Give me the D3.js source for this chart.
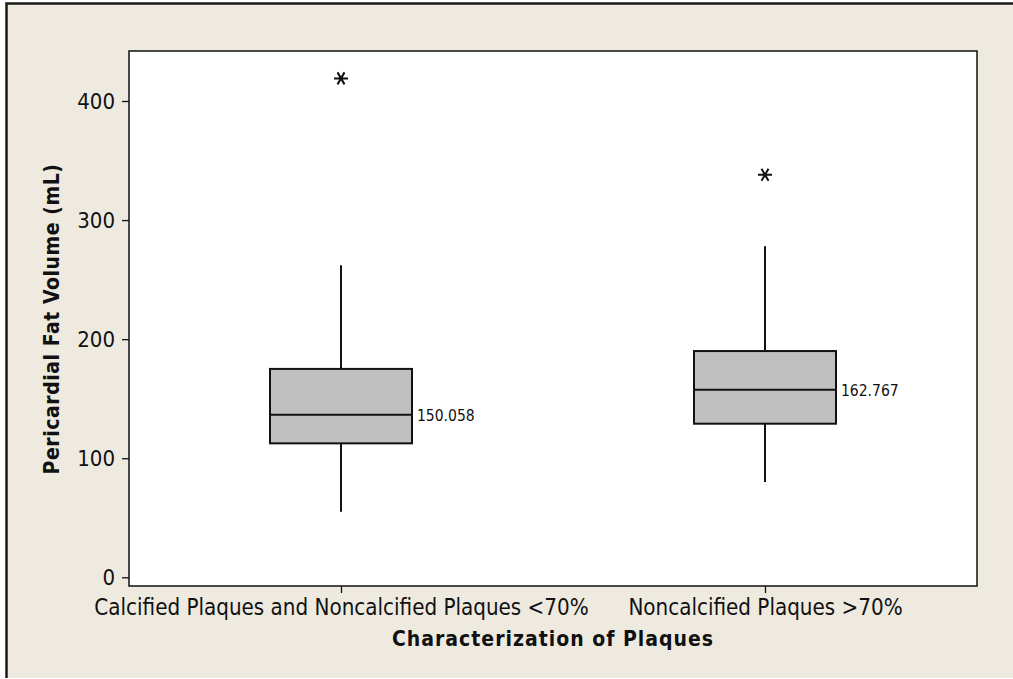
<!DOCTYPE html>
<html>
<head>
<meta charset="utf-8">
<script src="https://cdn.jsdelivr.net/npm/d3@7"></script>
<style>
    html, body { margin: 0; padding: 0; background: #ffffff; overflow: hidden; }
    svg { display: block; }
    text { font-family: "DejaVu Sans Condensed", "DejaVu Sans", sans-serif; fill: #111; }
</style>
</head>
<body>
<div id="boxplot"></div>
<script>
// data
var groups = ["Calcified Plaques and Noncalcified Plaques <70%", "Noncalcified Plaques >70%"]
var whiskerLow = [55, 80]
var q1 = [112.5, 129]
var medians = [136.5, 157.5]
var q3 = [175, 190]
var whiskerHigh = [262, 278]
var means = [150.058, 162.767]
var outliers = [[419], [338]]
var yTicks = [0, 100, 200, 300, 400]

var outerWidth = 1013,
    outerHeight = 679
var margin = { top: 51, right: 36, bottom: 93, left: 129 }
var innerWidth = outerWidth - margin.left - margin.right
var innerHeight = outerHeight - margin.top - margin.bottom

var svg = d3.select("#boxplot")
    .append("svg")
    .attr("width", outerWidth)
    .attr("height", outerHeight)

// beige panel with the heavy frame on top and left
svg.append("rect")
    .attr("x", 6)
    .attr("y", 3)
    .attr("width", outerWidth - 6)
    .attr("height", outerHeight - 4)
    .attr("fill", "#eeeae0")
svg.append("path")
    .attr("d", "M6.5," + (outerHeight - 1) + "V3.5H" + outerWidth)
    .attr("fill", "none")
    .attr("stroke", "#1a1a1a")
    .attr("stroke-width", 2.5)

var plot = svg.append("g")
    .attr("transform", "translate(" + margin.left + "," + margin.top + ")")

plot.append("rect")
    .attr("width", innerWidth)
    .attr("height", innerHeight)
    .attr("fill", "#ffffff")

var yScale = d3.scaleLinear()
    .domain([0, 400])
    .range([526.3, 50])

var xScale = d3.scalePoint()
    .domain(groups)
    .range([0, innerWidth])
    .padding(0.5)

var boxWidth = 142

// y axis
var yAxis = plot.append("g")
    .call(d3.axisLeft(yScale).tickValues(yTicks).tickSize(7).tickPadding(7))
yAxis.select(".domain").remove()
yAxis.selectAll("line").attr("stroke", "#111").attr("stroke-width", 1.3)
yAxis.selectAll("text")
    .attr("font-size", "22px")
    .attr("font-family", "DejaVu Sans Condensed, DejaVu Sans, sans-serif")
    .attr("fill", "#111")

// x axis
var xAxis = plot.append("g")
    .attr("transform", "translate(0," + innerHeight + ")")
    .call(d3.axisBottom(xScale).tickSize(7).tickPadding(6))
xAxis.select(".domain").remove()
xAxis.selectAll("line").attr("stroke", "#111").attr("stroke-width", 1.3)
xAxis.selectAll("text")
    .attr("font-size", "22.2px")
    .attr("font-family", "DejaVu Sans Condensed, DejaVu Sans, sans-serif")
    .attr("fill", "#111")

// plot border
plot.append("rect")
    .attr("width", innerWidth)
    .attr("height", innerHeight)
    .attr("fill", "none")
    .attr("stroke", "#111")
    .attr("stroke-width", 1.5)

var boxData = groups.map(function(g, i) {
    return { name: g, lo: whiskerLow[i], q1: q1[i], med: medians[i], q3: q3[i], hi: whiskerHigh[i], mean: means[i], out: outliers[i] }
})

var boxes = plot.selectAll(".box")
    .data(boxData)
    .enter()
    .append("g")
    .attr("class", "box")
    .attr("transform", d => "translate(" + xScale(d.name) + ",0)")

// whiskers
boxes.append("line")
    .attr("y1", d => yScale(d.hi))
    .attr("y2", d => yScale(d.q3))
    .attr("stroke", "#111")
    .attr("stroke-width", 2)
boxes.append("line")
    .attr("y1", d => yScale(d.q1))
    .attr("y2", d => yScale(d.lo))
    .attr("stroke", "#111")
    .attr("stroke-width", 2)

boxes.append("rect")
    .attr("x", -boxWidth / 2)
    .attr("y", d => yScale(d.q3))
    .attr("width", boxWidth)
    .attr("height", d => yScale(d.q1) - yScale(d.q3))
    .attr("fill", "#c0c0c0")
    .attr("stroke", "#111")
    .attr("stroke-width", 2)

boxes.append("line")
    .attr("x1", -boxWidth / 2)
    .attr("x2", boxWidth / 2)
    .attr("y1", d => yScale(d.med))
    .attr("y2", d => yScale(d.med))
    .attr("stroke", "#111")
    .attr("stroke-width", 2)

// mean label next to the median line
boxes.append("text")
    .attr("x", boxWidth / 2 + 5)
    .attr("y", d => yScale(d.med) + 6)
    .attr("font-size", "15.5px")
    .text(d => d.mean.toFixed(3))

// outliers drawn as asterisks
var star = "M-7,0H7M-3.5,-6L3.5,6M-3.5,6L3.5,-6"
boxes.selectAll(".outlier")
    .data(d => d.out)
    .enter()
    .append("path")
    .attr("class", "outlier")
    .attr("transform", v => "translate(0," + yScale(v) + ")")
    .attr("d", star)
    .attr("fill", "none")
    .attr("stroke", "#111")
    .attr("stroke-width", 2)

// axis titles
svg.append("text")
    .attr("x", margin.left + innerWidth / 2)
    .attr("y", 646)
    .attr("text-anchor", "middle")
    .attr("font-family", "DejaVu Sans, sans-serif")
    .attr("font-weight", "bold")
    .attr("font-size", "21px")
    .attr("letter-spacing", "1px")
    .text("Characterization of Plaques")

svg.append("text")
    .attr("transform", "translate(59,319) rotate(-90)")
    .attr("text-anchor", "middle")
    .attr("font-family", "DejaVu Sans, sans-serif")
    .attr("font-weight", "bold")
    .attr("font-size", "21px")
    .attr("letter-spacing", "0.55px")
    .text("Pericardial Fat Volume (mL)")
</script>
</body>
</html>
